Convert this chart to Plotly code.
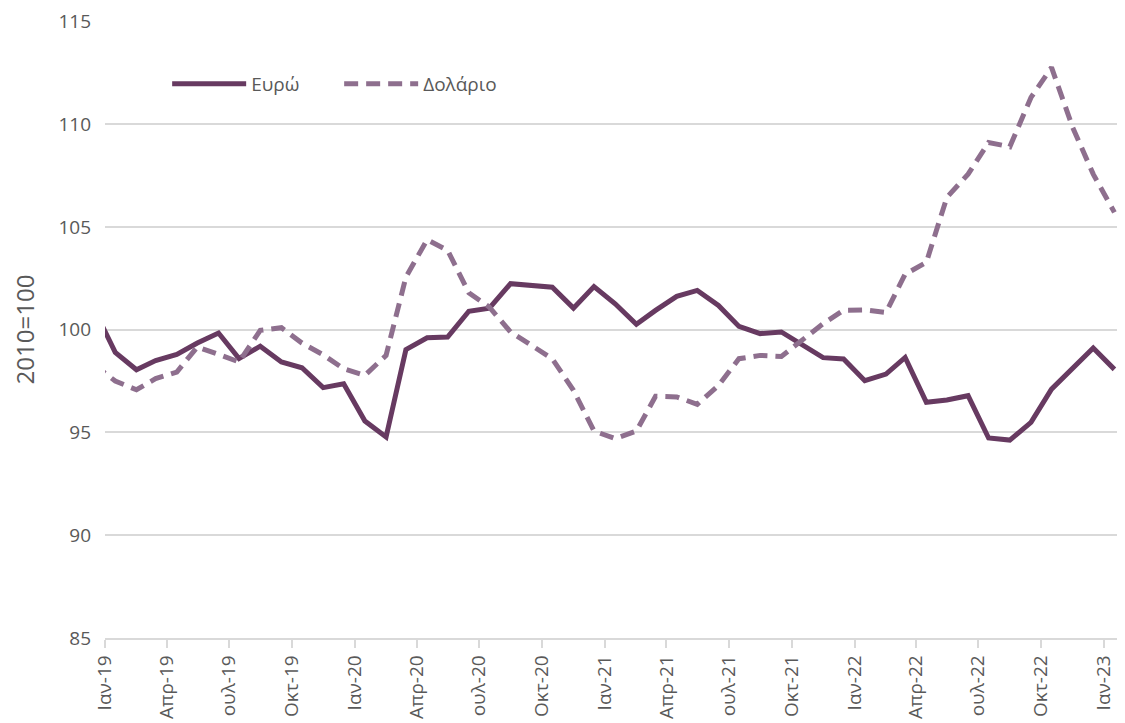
import plotly.graph_objects as go
import pandas as pd

# monthly observations (mid-month), Dec-2018 .. Jan-2023
months = pd.date_range("2018-12-01", "2023-01-01", freq="MS") + pd.Timedelta(days=15)

euro = [101.0,
        98.9, 98.05, 98.5, 98.8, 99.35, 99.84, 98.6, 99.2, 98.43, 98.15, 97.18, 97.37,
        95.56, 94.78, 99.03, 99.61, 99.64, 100.9, 101.05, 102.24, 102.16, 102.07, 101.05, 102.1,
        101.26, 100.26, 100.94, 101.62, 101.91, 101.18, 100.16, 99.81, 99.89, 99.27, 98.64, 98.58,
        97.52, 97.84, 98.65, 96.47, 96.58, 96.79, 94.73, 94.63, 95.49, 97.11, 98.17, 99.11,
        98.07]

dollar = [98.3,
          97.5, 97.08, 97.62, 97.94, 99.16, 98.8, 98.43, 99.97, 100.1, 99.35, 98.78, 98.1,
          97.78, 98.75, 102.56, 104.38, 103.86, 101.8, 101.1, 99.89, 99.24, 98.59, 97.05, 95.07,
          94.7, 95.07, 96.76, 96.73, 96.37, 97.29, 98.59, 98.75, 98.7, 99.51, 100.29, 100.95,
          100.96, 100.84, 102.7, 103.28, 106.44, 107.57, 109.11, 108.9, 111.3, 112.76, 109.84, 107.57,
          105.71]

tick_dates = pd.date_range("2019-01-01", "2023-01-01", freq="3MS")
tick_labels = ["Ιαν-19", "Απρ-19", "ουλ-19", "Οκτ-19",
               "Ιαν-20", "Απρ-20", "ουλ-20", "Οκτ-20",
               "Ιαν-21", "Απρ-21", "ουλ-21", "Οκτ-21",
               "Ιαν-22", "Απρ-22", "ουλ-22", "Οκτ-22",
               "Ιαν-23"]

y_ticks = [85, 90, 95, 100, 105, 110, 115]

FONT = "Open Sans"
GRAY = "#595959"
GRID = "#D9D9D9"

fig = go.Figure()
fig.add_trace(go.Scatter(x=months, y=euro, name="Ευρώ", mode="lines",
                         line=dict(color="#673A61", width=5)))
fig.add_trace(go.Scatter(x=months, y=dollar, name="Δολάριο", mode="lines",
                         line=dict(color="#8E6F8E", width=5, dash="14px,8px")))

# page body adds an 8px offset, so the figure is sized to fit the window
fig.update_layout(
    width=1117, height=715,
    margin=dict(l=97, r=1, t=13, b=85),
    paper_bgcolor="white", plot_bgcolor="white",
    font=dict(family=FONT, color=GRAY, size=18),
    showlegend=True,
    legend=dict(orientation="h", x=0.061, xanchor="left", y=0.898, yanchor="middle",
                font=dict(size=19, color=GRAY), bgcolor="rgba(0,0,0,0)",
                entrywidth=83, itemwidth=74),
    xaxis=dict(type="date", range=["2019-01-01", "2023-01-30"], automargin=False,
               tickmode="array", tickvals=tick_dates, ticktext=tick_labels,
               tickangle=-90, tickfont=dict(size=19, color=GRAY),
               showgrid=False, showline=True, linecolor=GRID, linewidth=1.5,
               ticks="outside", ticklen=8, tickcolor=GRID, tickwidth=1.5,
               zeroline=False, fixedrange=True),
    yaxis=dict(range=[85, 115.02], tickmode="array", tickvals=y_ticks, automargin=False,
               tickfont=dict(size=19, color=GRAY),
               showgrid=True, gridcolor=GRID, gridwidth=1.5,
               showline=False, zeroline=False, ticks="", ticklabelstandoff=13,
               title=dict(text="2010=100", font=dict(size=24, color=GRAY), standoff=22)),
)

fig.write_html("out.html")
